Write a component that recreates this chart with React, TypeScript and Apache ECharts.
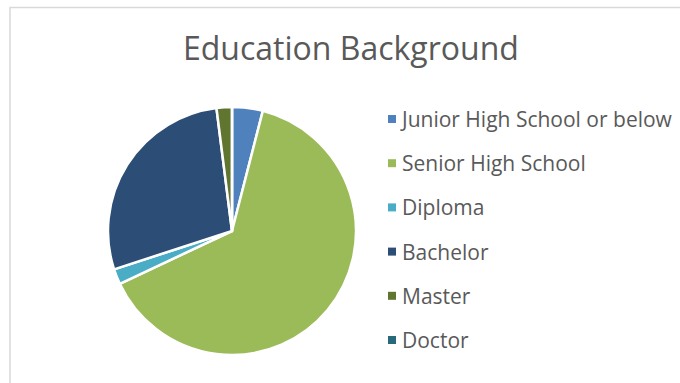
import React, { useEffect, useRef } from "react";
import * as echarts from "echarts";

const categories = [
  "Junior High School or below",
  "Senior High School",
  "Diploma",
  "Bachelor",
  "Master",
  "Doctor",
];
const shares = [4, 64, 2, 28, 2, 0];
const colors = ["#4F81BD", "#9BBB59", "#4BACC6", "#2C4D75", "#5F7530", "#276A7C"];
const titleText = "Education Background";

export default function App() {
  const ref = useRef<HTMLDivElement>(null);
  useEffect(() => {
    if (!ref.current) return;
    const chart = echarts.init(ref.current, undefined, { renderer: "svg" });
    chart.setOption({
      animation: false,
      backgroundColor: "#ffffff",
      title: {
        text: titleText,
        left: 178,
        top: 23,
        textStyle: {
          fontFamily: "Open Sans",
          fontSize: 32,
          fontWeight: "normal",
          color: "#595959",
          lineHeight: 38,
        },
      },
      graphic: [
        {
          type: "rect",
          shape: { x: 10, y: 7.5, width: 700, height: 420 },
          style: { fill: "none", stroke: "#d9d9d9", lineWidth: 1.5 },
          silent: true,
        },
      ],
      legend: {
        orient: "vertical",
        left: 383,
        top: 102,
        itemWidth: 8,
        itemHeight: 8,
        itemGap: 20.2,
        icon: "rect",
        itemStyle: { borderWidth: 0 },
        data: categories,
        textStyle: {
          fontFamily: "Open Sans",
          fontSize: 21,
          color: "#595959",
          lineHeight: 24,
          padding: [0, 0, 0, 1],
        },
      },
      series: [
        {
          type: "pie",
          center: [232, 231],
          radius: 124,
          startAngle: 90,
          clockwise: true,
          label: { show: false },
          labelLine: { show: false },
          itemStyle: { borderColor: "#ffffff", borderWidth: 2.5 },
          data: categories.map((name, i) => ({
            name,
            value: shares[i],
            itemStyle: { color: colors[i] },
          })),
        },
      ],
    });
    return () => chart.dispose();
  }, []);
  return (
    <div
      ref={ref}
      style={{ position: "fixed", left: 0, top: 0, width: 680, height: 383 }}
    />
  );
}
